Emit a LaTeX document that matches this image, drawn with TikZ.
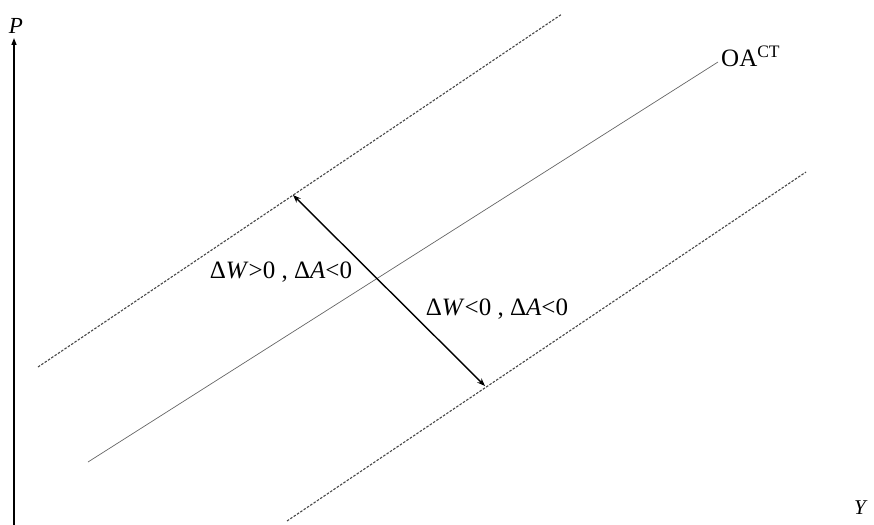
\documentclass[tikz,border=0pt]{standalone}
\usepackage{fontspec}
\setmainfont{Liberation Serif}
\usetikzlibrary{arrows.meta}
\begin{document}
\begin{tikzpicture}[x=1pt,y=-1pt,
  axis/.style={line width=1.4pt,-{Triangle[length=7pt,width=5pt]}},
  dline/.style={line width=1.1pt,draw=black!72,dash pattern=on 2.5pt off 1.5pt},
  sline/.style={line width=0.7pt,draw=black!60},
  dbl/.style={line width=1.4pt,{Stealth[length=8pt,width=6pt]}-{Stealth[length=8pt,width=6pt]}},
  lbl/.style={font=\fontsize{25}{28}\selectfont,inner sep=0pt}]
\useasboundingbox (0,0) rectangle (874,524);
\coordinate (o) at (14,528);
\coordinate (ptop) at (14,38);
\coordinate (yend) at (852,528);
\draw[axis] (o) -- (ptop);
\draw[axis] (o) -- (yend);
\node[lbl,font=\fontsize{23}{25}\selectfont\itshape] (P) at (16,26) {P};
\node[lbl,font=\fontsize{21}{23}\selectfont\itshape,anchor=south] (Y) at (860,515) {Y};
% curves
\coordinate (t1) at (38,367); \coordinate (t2) at (562,14);
\coordinate (m1) at (88,462); \coordinate (m2) at (718,62);
\coordinate (b1) at (287,521); \coordinate (b2) at (806,172);
\draw[dline] (t1) -- (t2);
\draw[sline] (m1) -- (m2);
\draw[dline] (b1) -- (b2);
\node[lbl,anchor=west] (oa) at (721,56) {OA\textsuperscript{CT}};
\coordinate (a1) at (293,195); \coordinate (a2) at (485,386);
\draw[dbl] (a1) -- (a2);
\node[lbl] (l1) at (281,272) {Δ\textit{W}>0 , Δ\textit{A}<0};
\node[lbl] (l2) at (497,309) {Δ\textit{W}<0 , Δ\textit{A}<0};
\end{tikzpicture}
\end{document}
